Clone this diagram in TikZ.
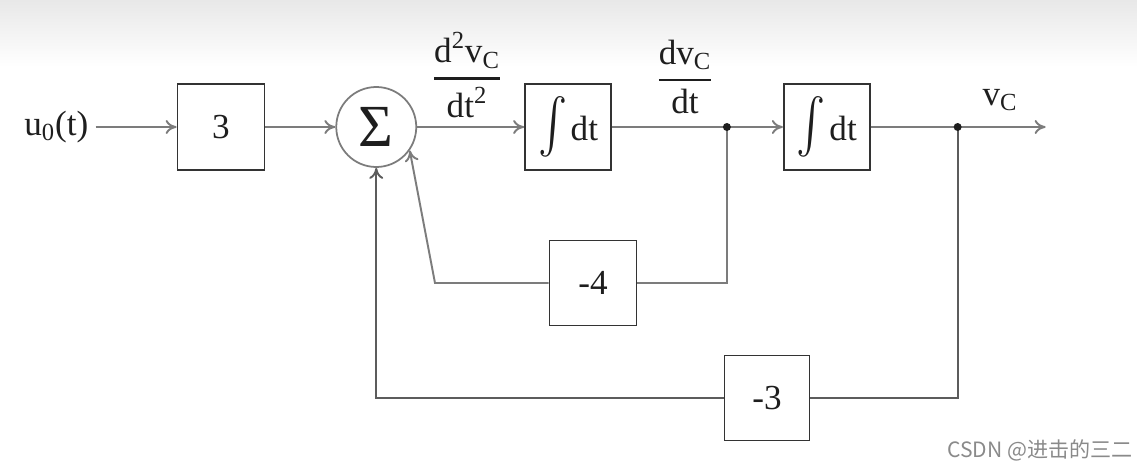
\documentclass[tikz,border=0pt]{standalone}
\usepackage{amsmath}
\usepackage{graphicx}
\usepackage{fontspec}
\setmainfont{Liberation Serif}
\newfontfamily\wmfont{Noto Sans CJK SC}
\usepackage{tikz}
\usetikzlibrary{arrows.meta,positioning,calc}
\definecolor{wiregray}{HTML}{7C7C7C}
\definecolor{edgegray}{HTML}{333333}
\definecolor{ink}{HTML}{1E1E1E}
\definecolor{wmark}{HTML}{8A8A8A}
\tikzset{
  blk/.style   ={draw=edgegray,line width=1pt,fill=white,minimum width=1.74cm,
                 minimum height=1.72cm,inner sep=0pt,text=ink},
  sumnode/.style={circle,draw=wiregray,line width=1pt,minimum size=1.6cm,
                 inner sep=0pt,text=ink},
  lbl/.style   ={text=ink,inner sep=4pt},
  line/.style  ={line width=1.1pt,draw=wiregray},
  sig/.style   ={-{To[length=2.2mm,width=2.8mm]},line width=1.1pt,draw=wiregray}
}
\newcommand{\intdt}{\raisebox{5pt}{\scalebox{1.2}[1.5]{$\int$}\kern2pt dt}}

\begin{document}
\begin{tikzpicture}[font=\rmfamily\fontsize{20}{24}\selectfont]
    \useasboundingbox (0,2.54) rectangle (22.74,-6.84);
    \shade[top color=black!9,bottom color=white] (0,2.54) rectangle (22.74,1.2);
    % forward path
    \node[blk] (k3) at (4.42,0) {3};
    \node[lbl,left=1.62cm of k3] (u) {u\textsubscript{0}(t)};
    \node[sumnode,right=1.4cm of k3] (sum) {\fontsize{34}{34}\selectfont Σ};
    \node[blk,right=2.14cm of sum,minimum width=1.72cm] (int1) {\intdt};
    \coordinate[right=2.3cm of int1] (dot1);
    \node[blk,right=3.42cm of int1,minimum width=1.72cm] (int2) {\intdt};
    \coordinate[right=1.74cm of int2] (dot2);
    \coordinate[right=1.76cm of dot2] (vout);
    % feedback gains
    \node[blk,minimum height=1.7cm] (k4) at (11.86,-3.12) {-4};
    \node[blk,minimum width=1.7cm,minimum height=1.7cm] (k3b) at (15.34,-5.42) {-3};
    \coordinate (bend4) at (8.7,-3.12);
    \draw[sig] (u) -- (k3);
    \draw[sig] (k3) -- (sum);
    \draw[sig] (sum) -- (int1);
    \draw[line] (int1) -- (dot1);
    \draw[sig] (dot1) -- (int2);
    \draw[line] (int2) -- (dot2);
    \draw[sig] (dot2) -- (vout);
    \draw[line] (dot1) |- (k4);
    \draw[sig] (k4) -- (bend4) -- (sum.-35);
    \draw[line,draw=edgegray!80] (dot2) |- (k3b);
    \draw[sig,draw=edgegray!80] (k3b) -| (sum);
    \fill[ink] (dot1) circle (0.8mm) (dot2) circle (0.8mm);
    % signal names
    \node[lbl] (acc) at (9.34,1.04) {$\genfrac{}{}{1.4pt}{0}{\text{d}^{\text{2}}\text{v}_{\text{C}}}{\text{dt}^{\text{2}}}$};
    \node[lbl] (vel) at (13.7,1.0) {$\genfrac{}{}{1.4pt}{0}{\text{dv}_{\text{C}}}{\text{dt}}$};
    \node[lbl] (pos) at (20.0,0.54) {v\textsubscript{C}};
    \node[text=wmark,font=\wmfont\fontsize{12}{14}\selectfont] (wm) at (20.8,-6.46) {CSDN @进击的三二};
  \end{tikzpicture}
\end{document}
